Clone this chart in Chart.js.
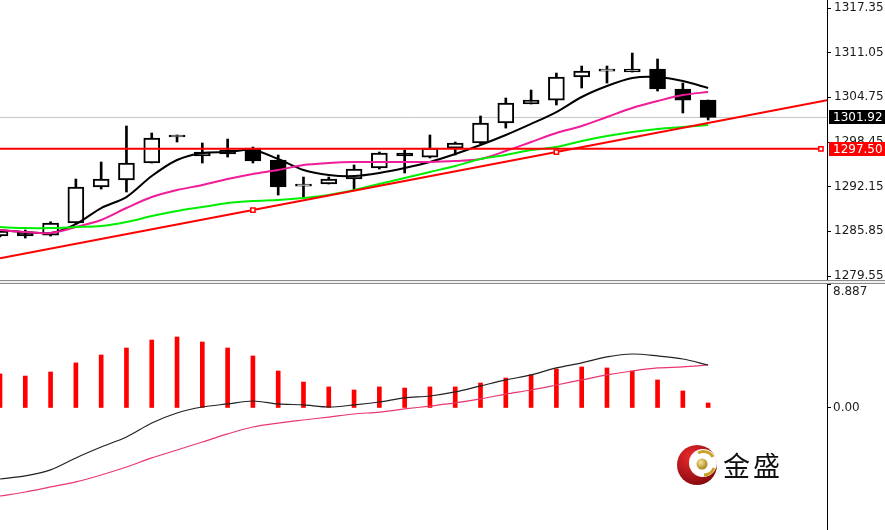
<!DOCTYPE html>
<html>
<head>
<meta charset="utf-8">
<script src="https://cdn.jsdelivr.net/npm/chart.js@4.4.1/dist/chart.umd.min.js"></script>
<style>
    html, body { margin: 0; padding: 0; background: #fff; }
    #wrap { position: relative; width: 885px; height: 530px; overflow: hidden; background: #fff; }
    #priceChart { position: absolute; left: 0; top: 0; }
    #sep { position: absolute; left: 0; top: 280px; width: 885px; height: 4px; box-sizing: border-box;
           border-top: 1px solid #8a8a8a; border-bottom: 1px solid #8a8a8a; background: #f0f0f0; }
    #macdChart { position: absolute; left: 0; top: 284px; }
    #logo { position: absolute; left: 675px; top: 442px; }
    #brand { position: absolute; left: 723px; top: 447px; font-family: "Noto Sans CJK SC", sans-serif;
             font-size: 27px; line-height: 36px; letter-spacing: 3px; color: #111; }
</style>
</head>
<body>
<div id="wrap">
    <canvas id="priceChart" width="885" height="280"></canvas>
    <div id="sep"></div>
    <canvas id="macdChart" width="885" height="246"></canvas>
    <svg id="logo" width="46" height="46" viewBox="0 0 46 46">
        <defs>
            <radialGradient id="redG" cx="35%" cy="30%" r="80%">
                <stop offset="0" stop-color="#ea2a2c"/>
                <stop offset="1" stop-color="#7e070c"/>
            </radialGradient>
            <radialGradient id="goldG" cx="38%" cy="35%" r="65%">
                <stop offset="0" stop-color="#f6e79a"/>
                <stop offset="1" stop-color="#a9841a"/>
            </radialGradient>
        </defs>
        <circle cx="22" cy="23" r="20" fill="url(#redG)"/>
        <circle cx="28" cy="21" r="14" fill="#fff"/>
        <path d="M 23 11 A 11 11 0 0 1 38 15" stroke="#c9a227" stroke-width="3" fill="none"/>
        <path d="M 39 26 A 11 11 0 0 1 29 33" stroke="#c9a227" stroke-width="3" fill="none"/>
        <circle cx="27" cy="22" r="5.5" fill="url(#goldG)"/>
    </svg>
    <div id="brand">金盛</div>
</div>
<script>
// 캔들 데이터 (왼쪽부터)
const opens  = [1285.19, 1285.76, 1285.33, 1287.03, 1292.10, 1293.09, 1295.49, 1299.16, 1296.48, 1296.76,
                1297.60, 1295.91, 1292.24, 1292.53, 1293.23, 1294.78, 1296.90, 1296.33, 1297.60, 1298.31,
                1301.13, 1303.81, 1304.37, 1307.62, 1308.46, 1308.32, 1308.75, 1305.93, 1304.37];
const highs  = [1286.04, 1286.04, 1287.20, 1293.23, 1295.63, 1300.71, 1299.72, 1299.44, 1298.31, 1298.87,
                1297.74, 1296.62, 1293.51, 1293.51, 1295.21, 1297.04, 1297.32, 1299.44, 1298.45, 1302.12,
                1304.66, 1305.78, 1308.18, 1309.17, 1309.17, 1311.00, 1310.16, 1306.77, 1304.37];
const lows   = [1285.05, 1284.91, 1285.19, 1286.90, 1291.82, 1291.40, 1295.49, 1298.45, 1295.49, 1296.33,
                1295.49, 1290.97, 1290.69, 1292.53, 1291.68, 1294.64, 1294.08, 1296.20, 1296.62, 1298.17,
                1300.42, 1303.81, 1303.67, 1306.07, 1306.77, 1308.32, 1305.64, 1302.54, 1301.55];
const closes = [1285.90, 1285.19, 1287.03, 1292.10, 1293.23, 1295.49, 1299.01, 1299.16, 1297.04, 1297.32,
                1295.77, 1292.10, 1292.24, 1293.23, 1294.64, 1296.90, 1296.48, 1297.60, 1298.31, 1301.13,
                1303.95, 1304.37, 1307.62, 1308.46, 1308.46, 1308.75, 1305.93, 1304.37, 1301.92];

// 이동평균선
const maFast = [1286.04, 1285.76, 1285.62, 1286.88, 1289.14, 1290.69, 1293.65, 1295.91, 1296.90, 1297.04,
                1297.32, 1296.05, 1294.50, 1293.80, 1293.65, 1294.08, 1294.78, 1295.63, 1296.76, 1298.03,
                1299.44, 1301.01, 1302.68, 1304.80, 1306.35, 1307.48, 1307.62, 1307.05, 1306.07];
const maMid  = [1286.04, 1285.76, 1285.62, 1286.46, 1287.45, 1289.14, 1290.69, 1291.68, 1292.39, 1293.23,
                1293.94, 1294.50, 1295.21, 1295.49, 1295.63, 1295.63, 1295.63, 1295.63, 1295.77, 1296.05,
                1297.18, 1298.45, 1299.72, 1300.71, 1301.98, 1303.25, 1304.23, 1305.08, 1305.50];
const maSlow = [1286.46, 1286.32, 1286.32, 1286.46, 1286.60, 1287.17, 1288.01, 1288.72, 1289.28, 1289.85,
                1290.13, 1290.27, 1290.55, 1290.98, 1291.68, 1292.53, 1293.37, 1294.22, 1295.07, 1296.05,
                1296.62, 1297.32, 1297.74, 1298.59, 1299.30, 1299.86, 1300.28, 1300.57, 1300.85];

// 추세선 기준점, 수평선
const trendIdx = [10, 22];
const trendVal = [1288.86, 1297.04];
const levelPrice = 1297.50;
const lastPrice = closes[closes.length - 1];

// MACD
const macdHist   = [2.44, 2.29, 2.58, 3.23, 3.80, 4.30, 4.87, 5.09, 4.73, 4.30,
                    3.73, 2.65, 1.86, 1.51, 1.29, 1.51, 1.43, 1.51, 1.51, 1.79,
                    2.15, 2.37, 2.80, 2.94, 2.87, 2.65, 2.01, 1.22, 0.36];
const macdMain   = [-5.09, -4.87, -4.44, -3.58, -2.80, -2.08, -1.08, -0.36, 0.07, 0.29,
                    0.50, 0.29, 0.22, 0.07, 0.22, 0.43, 0.72, 0.86, 1.15, 1.58,
                    2.01, 2.37, 2.87, 3.23, 3.66, 3.87, 3.73, 3.51, 3.08];
const macdSignal = [-6.31, -6.02, -5.66, -5.30, -4.80, -4.23, -3.58, -3.01, -2.44, -1.86,
                    -1.36, -1.08, -0.86, -0.65, -0.43, -0.29, -0.07, 0.14, 0.36, 0.65,
                    1.00, 1.29, 1.65, 2.01, 2.37, 2.65, 2.87, 2.94, 3.08];

// 축 눈금
const priceTicks = [1279.55, 1285.85, 1292.15, 1298.45, 1304.75, 1311.05, 1317.35];
const macdTicks = [8.887, 0];

const X_MIN = 0, X_MAX = 32.7;
const AXIS_W = 58;
const labelFont = '12px "DejaVu Sans"';

const pts = arr => arr.map((v, i) => ({ x: i, y: v }));

function trendAt(x) {
    const slope = (trendVal[1] - trendVal[0]) / (trendIdx[1] - trendIdx[0]);
    return trendVal[0] + (x - trendIdx[0]) * slope;
}

function fixAxis(scale) {
    scale.width = AXIS_W;
    scale.paddingTop = 0;
    scale.paddingBottom = 0;
}

// 가격 라벨 박스
const priceTags = {
    id: 'priceTags',
    afterDraw(chart) {
        const { ctx, chartArea, scales: { y } } = chart;
        const tags = [
            { value: lastPrice, bg: '#000' },
            { value: levelPrice, bg: '#ff0000' }
        ];
        ctx.save();
        ctx.font = labelFont;
        ctx.textBaseline = 'middle';
        tags.forEach(t => {
            const py = Math.round(y.getPixelForValue(t.value));
            ctx.fillStyle = t.bg;
            ctx.fillRect(chartArea.right + 2, py - 7, AXIS_W, 14);
            ctx.fillStyle = '#fff';
            ctx.fillText(t.value.toFixed(2), chartArea.right + 6, py + 0.5);
        });
        ctx.restore();
    }
};

const macdLabels = {
    id: 'macdLabels',
    afterDraw(chart) {
        const { ctx, chartArea, scales: { y } } = chart;
        ctx.save();
        ctx.font = labelFont;
        ctx.fillStyle = '#222';
        ctx.textBaseline = 'middle';
        macdTicks.forEach(v => {
            let py = y.getPixelForValue(v);
            if (py < 8) py = 8;
            ctx.fillText(v === 0 ? '0.00' : String(v), chartArea.right + 6, py);
        });
        ctx.restore();
    }
};

const flatLine = (value, color, width, order) => ({
    type: 'line',
    data: [{ x: X_MIN, y: value }, { x: X_MAX, y: value }],
    borderColor: color, borderWidth: width, pointRadius: 0, order: order
});

new Chart(document.getElementById('priceChart'), {
    type: 'bar',
    data: {
        datasets: [
            flatLine(lastPrice, '#c4c4c4', 1, 5),
            {
                type: 'bar',
                data: lows.map((v, i) => ({ x: i, y: [v, highs[i]] })),
                backgroundColor: '#000', borderWidth: 0, barThickness: 2, grouped: false, order: 3
            },
            {
                type: 'bar',
                data: opens.map((v, i) => ({ x: i, y: [v, closes[i]] })),
                backgroundColor: opens.map((v, i) => closes[i] >= v ? '#fff' : '#000'),
                borderColor: '#000', borderWidth: 2, borderSkipped: false,
                barThickness: 16, minBarLength: 2, grouped: false, order: 2
            },
            { type: 'line', data: pts(maSlow), borderColor: '#00ee00', borderWidth: 2, pointRadius: 0, tension: 0.3, order: 1 },
            { type: 'line', data: pts(maMid), borderColor: '#f01c98', borderWidth: 2, pointRadius: 0, tension: 0.3, order: 1 },
            { type: 'line', data: pts(maFast), borderColor: '#000', borderWidth: 2, pointRadius: 0, tension: 0.3, order: 1 },
            {
                type: 'line',
                data: [{ x: X_MIN, y: levelPrice }, { x: X_MAX - 0.24, y: levelPrice }],
                borderColor: '#ff0000', borderWidth: 2, order: 0,
                pointStyle: 'rect', pointRadius: [0, 3], pointBackgroundColor: '#fff',
                pointBorderColor: '#ff0000', pointBorderWidth: 1.5
            },
            {
                type: 'line',
                data: [X_MIN, trendIdx[0], trendIdx[1], X_MAX].map(x => ({ x: x, y: trendAt(x) })),
                borderColor: '#ff0000', borderWidth: 2, order: 0,
                pointStyle: 'rect', pointRadius: [0, 3, 3, 0], pointBackgroundColor: '#fff',
                pointBorderColor: '#ff0000', pointBorderWidth: 1.5
            }
        ]
    },
    options: {
        responsive: false,
        animation: false,
        events: [],
        layout: { padding: 0, autoPadding: false },
        plugins: { legend: { display: false }, tooltip: { enabled: false } },
        scales: {
            x: { type: 'linear', min: X_MIN, max: X_MAX, offset: false, display: false },
            y: {
                position: 'right',
                min: 1278.99, max: 1318.48,
                afterBuildTicks: s => { s.ticks = priceTicks.map(v => ({ value: v })); },
                afterFit: fixAxis,
                border: { display: true, color: '#000', width: 1 },
                grid: { drawOnChartArea: false, drawTicks: true, tickLength: 4, color: '#000' },
                ticks: { padding: 3, color: '#1a1a1a', font: { family: 'DejaVu Sans', size: 12 },
                         callback: v => Number(v).toFixed(2) }
            }
        }
    },
    plugins: [priceTags]
});

new Chart(document.getElementById('macdChart'), {
    type: 'bar',
    data: {
        datasets: [
            {
                type: 'bar', data: pts(macdHist), backgroundColor: '#ff0000',
                barThickness: 4, grouped: false, order: 2
            },
            { type: 'line', data: pts(macdSignal), borderColor: '#e8386e', borderWidth: 1.2, pointRadius: 0, tension: 0.3, order: 1 },
            { type: 'line', data: pts(macdMain), borderColor: '#222', borderWidth: 1.2, pointRadius: 0, tension: 0.3, order: 0 }
        ]
    },
    options: {
        responsive: false,
        animation: false,
        events: [],
        layout: { padding: 0, autoPadding: false },
        plugins: { legend: { display: false }, tooltip: { enabled: false } },
        scales: {
            x: { type: 'linear', min: X_MIN, max: X_MAX, offset: false, display: false },
            y: {
                position: 'right',
                min: -8.745, max: 8.887,
                afterBuildTicks: s => { s.ticks = macdTicks.map(v => ({ value: v })); },
                afterFit: fixAxis,
                border: { display: true, color: '#000', width: 1 },
                grid: { drawOnChartArea: false, drawTicks: true, tickLength: 4, color: '#000' },
                ticks: { display: false }
            }
        }
    },
    plugins: [macdLabels]
});
</script>
</body>
</html>
